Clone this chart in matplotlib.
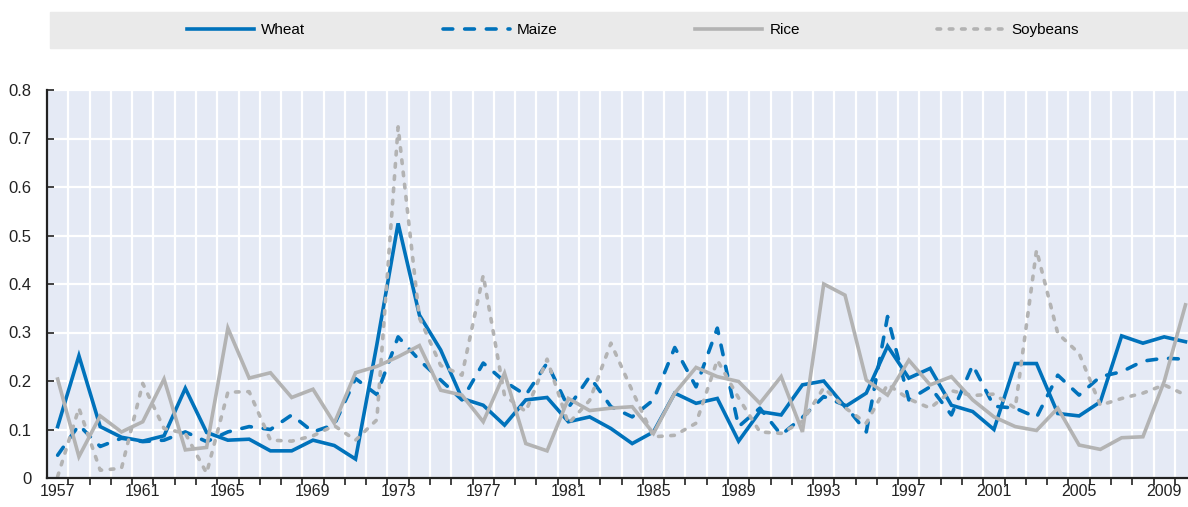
import matplotlib
matplotlib.use('Agg')
import matplotlib.pyplot as plt
from matplotlib.patches import Rectangle
import numpy as np

years = list(range(1957, 2011))

wheat = [0.106, 0.252, 0.106, 0.084, 0.076, 0.087, 0.185, 0.094, 0.078, 0.080,
         0.056, 0.056, 0.078, 0.067, 0.039, 0.275, 0.525, 0.336, 0.264, 0.164,
         0.150, 0.109, 0.161, 0.166, 0.116, 0.126, 0.102, 0.071, 0.095, 0.175,
         0.154, 0.164, 0.076, 0.137, 0.130, 0.192, 0.200, 0.147, 0.175, 0.272,
         0.206, 0.226, 0.150, 0.137, 0.100, 0.236, 0.236, 0.133, 0.128, 0.157,
         0.293, 0.278, 0.291, 0.281]

maize = [0.047, 0.109, 0.065, 0.082, 0.075, 0.078, 0.095, 0.075, 0.095, 0.106,
         0.100, 0.130, 0.095, 0.110, 0.205, 0.172, 0.291, 0.243, 0.202, 0.161,
         0.237, 0.199, 0.171, 0.237, 0.145, 0.209, 0.147, 0.126, 0.161, 0.269,
         0.188, 0.309, 0.106, 0.144, 0.089, 0.125, 0.168, 0.150, 0.095, 0.333,
         0.161, 0.188, 0.130, 0.233, 0.148, 0.144, 0.125, 0.212, 0.171, 0.209,
         0.219, 0.241, 0.247, 0.245]

rice = [0.204, 0.044, 0.128, 0.095, 0.116, 0.204, 0.058, 0.063, 0.309, 0.206,
        0.217, 0.166, 0.183, 0.113, 0.217, 0.230, 0.250, 0.273, 0.181, 0.171,
        0.116, 0.216, 0.071, 0.056, 0.164, 0.139, 0.144, 0.147, 0.092, 0.175,
        0.228, 0.209, 0.199, 0.154, 0.209, 0.095, 0.400, 0.377, 0.202, 0.171,
        0.243, 0.192, 0.209, 0.161, 0.126, 0.106, 0.098, 0.144, 0.068, 0.059,
        0.083, 0.085, 0.199, 0.357]

soybeans = [0.003, 0.144, 0.016, 0.020, 0.195, 0.102, 0.092, 0.010, 0.177, 0.178,
            0.078, 0.076, 0.087, 0.108, 0.078, 0.120, 0.724, 0.330, 0.232, 0.212,
            0.418, 0.170, 0.137, 0.245, 0.112, 0.160, 0.278, 0.180, 0.085, 0.088,
            0.113, 0.243, 0.165, 0.095, 0.092, 0.117, 0.186, 0.145, 0.113, 0.193,
            0.163, 0.144, 0.180, 0.170, 0.173, 0.144, 0.470, 0.298, 0.257, 0.150,
            0.164, 0.175, 0.192, 0.171]

year_labels = [str(y) for y in range(1957, 2011, 4)]
y_ticks = [0, 0.1, 0.2, 0.3, 0.4, 0.5, 0.6, 0.7, 0.8]

blue = '#0072BB'
grey = '#B3B3B3'

plt.rcParams['font.family'] = ['Liberation Sans', 'DejaVu Sans']

fig = plt.figure(figsize=(11.88, 5.07), dpi=100)

# legend band at the top
fig.patches.append(Rectangle((50 / 1188, 1 - 48 / 507), 1.0, 36 / 507,
                             transform=fig.transFigure, color='#EAEAEA',
                             zorder=0))

ax = fig.add_axes([47 / 1188, 1 - 478 / 507, 1 - 47 / 1188, 388 / 507])
ax.set_facecolor('#E5EAF5')

lw = 2.6
ax.plot(years, wheat, color=blue, lw=lw, label='Wheat',
        solid_joinstyle='miter')
ax.plot(years, maize, color=blue, lw=lw, label='Maize',
        dashes=(2.7, 3.3), dash_capstyle='round')
ax.plot(years, rice, color=grey, lw=lw, label='Rice',
        solid_joinstyle='miter')
ax.plot(years, soybeans, color=grey, lw=lw, label='Soybeans',
        dashes=(1.0, 2.4), dash_capstyle='round')

ax.set_ylim(0, 0.8)
ax.set_xlim(1956.5, 1956.5 + (1188 - 47) / 21.28)

# grid between the years, labels on every fourth year
ax.set_xticks(np.arange(1957.5, 2010, 1.0))
ax.set_xticklabels([])
ax.set_xticks(range(1957, 2011, 4), minor=True)
ax.set_xticklabels(year_labels, minor=True)
ax.tick_params(axis='x', which='major', length=5, width=1.2, color='#222222',
               direction='out')
ax.tick_params(axis='x', which='minor', length=0, pad=4, labelsize=11.5,
               labelcolor='#222222')
ax.set_yticks(y_ticks)
ax.set_yticklabels(['0' if v == 0 else f'{v:.1f}' for v in y_ticks])
ax.tick_params(axis='y', length=5, width=1.2, direction='in', color='#222222',
               pad=11, labelsize=12, labelcolor='#222222')

ax.grid(True, which='major', color='white', lw=1.6)
ax.set_axisbelow(True)
for s in ['top', 'right']:
    ax.spines[s].set_visible(False)
for s in ['left', 'bottom']:
    ax.spines[s].set_color('#222222')
    ax.spines[s].set_linewidth(1.6)

handles, labels = ax.get_legend_handles_labels()
fig.legend(handles, labels, loc='center', ncol=4,
           bbox_to_anchor=(633 / 1188, 1 - 30 / 507), frameon=False,
           fontsize=11, handlelength=4.4, handletextpad=0.45,
           columnspacing=9.0)

fig.savefig('out.png', dpi=100)
